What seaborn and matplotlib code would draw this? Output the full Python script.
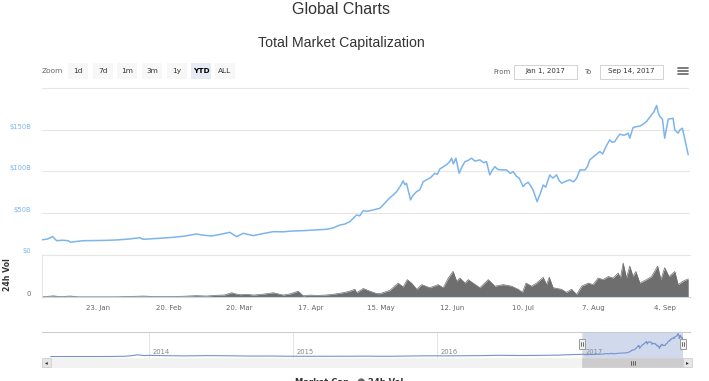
import numpy as np
import pandas as pd
import matplotlib
matplotlib.use('Agg')
import matplotlib.pyplot as plt
import matplotlib.dates as mdates
import matplotlib.transforms as mtransforms
from matplotlib.patches import Rectangle
import seaborn as sns

W, H = 709, 381
START = pd.Timestamp('2017-01-01')
END = pd.Timestamp('2017-09-14')

# total market cap, $ billions (day offset from Jan 1, 2017)
cap_day = [0, 2, 4.2, 5.8, 8, 10.4, 11.3, 13, 16.3, 20, 25, 29.5, 34, 38.7, 39.9, 44, 48,
           51.9, 56, 61.1, 63, 67, 70, 74.2, 76.9, 79.5, 83.5, 87, 91.4, 95, 99.2, 104, 108,
           112.4, 115, 117.7, 119.5, 121.6, 124.3, 125.5, 126.9, 128.5, 130.8, 133.5, 135.5,
           137, 138.5, 140.1, 141.5, 142.7, 143.3, 144, 145.6, 146.5, 148, 149.3, 150.6, 152,
           153.5, 155.2, 156.2, 157.2, 158.5, 160, 161.1, 161.8, 162.5, 163.5, 164.8, 166,
           167.1, 168.5, 169.7, 171, 173, 174.5, 175.6, 176.9, 177.8, 178.9, 180, 181.6, 183.5,
           185, 186.1, 187.5, 188.5, 190.1, 191, 192.1, 193.2, 194, 195.6, 196.8, 198, 199,
           200.6, 201.8, 203.3, 204.3, 205.3, 206.8, 208.5, 210, 211.2, 212.5, 214.5, 215.5,
           216.4, 218, 220.4, 221.5, 222.8, 224.3, 225.3, 226.3, 227.3, 228.3, 230, 231.6,
           232.2, 233.5, 235, 236.2, 237.5, 238.8, 240.8, 241.8, 242.8, 243.5, 244.1, 245.1,
           246, 246.6, 247.4, 249.3, 250, 251.3, 252, 253, 254, 255.3]
cap_bn = [17.7, 18.5, 21.5, 16.6, 17.2, 16.6, 14.7, 15.5, 16.6, 16.8, 17.0, 17.5, 18.5, 20.2,
          18.3, 19.0, 19.8, 20.7, 22.0, 24.7, 23.5, 22.3, 24.0, 26.7, 21.5, 25.5, 22.7, 25.0,
          27.5, 27.3, 28.3, 28.8, 29.6, 30.3, 32.0, 35.5, 36.5, 39.5, 47.6, 46.5, 52.8, 52.0,
          53.6, 55.7, 62.0, 67.0, 71.0, 75.7, 82.0, 88.6, 84.0, 85.8, 65.7, 71.0, 75.7, 78.0,
          87.7, 90.0, 92.5, 97.8, 96.5, 103, 105.5, 108.5, 111.8, 116, 109, 116, 97.8, 106,
          111.8, 113.5, 116, 112.5, 113.9, 110.5, 111.8, 95.8, 101, 105.8, 102.5, 101.8, 101.8,
          97.5, 99.8, 94, 92, 81.7, 85, 87, 82, 77.7, 63.6, 73, 83.7, 81, 95.8, 92, 95.8, 89,
          85.8, 88, 89.8, 87.5, 91.8, 101.8, 101.8, 106, 113.9, 118, 123.9, 121, 130, 138, 135,
          136, 141, 144.8, 143.5, 146, 140, 152.8, 154, 154.5, 156.9, 160, 168, 172, 179.3,
          170, 166, 163, 140, 150, 163, 164, 150, 146, 150, 152, 138, 120]

# 24h volume, $ billions
vol_day = [0, 2, 4.5, 7, 11.3, 14, 20, 30, 40, 45, 50, 56, 61, 65, 69, 72, 74.9, 76.5, 78.2,
           81, 83.5, 87, 91.4, 95.3, 98, 101.2, 103.2, 106, 108.5, 112, 115, 118, 120.3, 122,
           123.6, 124.3, 126.9, 129.5, 132.2, 133.5, 135.5, 137.4, 140.7, 142.7, 144.3, 146,
           148, 150, 153.2, 156.5, 158.5, 160.5, 162.4, 163.8, 165.1, 167.1, 168.4, 170.3, 173,
           176.3, 178.9, 182.2, 185.5, 188.1, 189.8, 191.2, 193.4, 195.4, 198, 199.3, 200.4,
           201.9, 205.2, 207.2, 209.2, 211.2, 213.2, 215.8, 217.7, 219.7, 221.7, 223.7, 225.6,
           227.6, 228.5, 229.6, 230.9, 232.2, 233.5, 234.6, 236.2, 238.8, 240.8, 243.2, 244.5,
           246, 247.7, 250, 251.3, 253.3, 255.3]
vol_bn = [0.1, 0.15, 0.3, 0.1, 0.25, 0.05, 0.05, 0.05, 0.25, 0.1, 0.1, 0.2, 0.35, 0.25, 0.45,
          0.5, 1.1, 0.8, 0.6, 0.7, 0.5, 0.7, 1.1, 0.5, 0.8, 1.5, 0.3, 0.5, 0.4, 0.5, 0.7, 1.0,
          1.3, 1.6, 2.0, 1.1, 2.2, 1.5, 0.9, 0.85, 1.3, 1.7, 3.6, 2.6, 4.5, 3.6, 2.0, 3.2, 2.4,
          3.2, 2.4, 4.9, 6.65, 4.1, 4.9, 3.6, 4.5, 3.6, 2.4, 4.5, 2.8, 3.2, 2.8, 2.0, 1.2, 3.6,
          2.8, 3.6, 5.1, 3.2, 5.1, 2.4, 2.0, 1.2, 2.0, 0.65, 2.8, 3.6, 3.2, 4.9, 4.5, 5.3, 4.9,
          6.2, 4.9, 8.8, 4.9, 8.0, 5.3, 6.6, 3.6, 4.5, 5.3, 8.0, 4.5, 7.6, 5.3, 6.6, 3.2, 4.1,
          4.7]

# navigator history before 2017, $ billions
nav_dates = ['2013-04-28', '2013-06-01', '2013-07-01', '2013-08-01', '2013-09-01', '2013-10-01',
             '2013-11-01', '2013-11-20', '2013-12-04', '2013-12-20', '2014-01-01', '2014-02-01',
             '2014-03-01', '2014-04-01', '2014-05-01', '2014-06-01', '2014-07-01', '2014-08-01',
             '2014-09-01', '2014-10-01', '2014-11-01', '2014-12-01', '2015-01-01', '2015-02-01',
             '2015-03-01', '2015-04-01', '2015-05-01', '2015-06-01', '2015-07-01', '2015-08-01',
             '2015-09-01', '2015-10-01', '2015-11-01', '2015-12-01', '2016-01-01', '2016-02-01',
             '2016-03-01', '2016-04-01', '2016-05-01', '2016-06-01', '2016-07-01', '2016-08-01',
             '2016-09-01', '2016-10-01', '2016-11-01', '2016-12-01']
nav_bn = [1.6, 1.4, 1.2, 1.3, 1.6, 2.0, 3.5, 8.5, 15.0, 9.0, 10.5, 8.5, 7.5, 6.5, 7.5, 8.5,
          8.0, 7.0, 5.5, 5.0, 5.5, 4.5, 3.5, 3.5, 3.8, 3.4, 3.4, 3.7, 4.5, 3.5, 3.5, 4.6, 5.5,
          7.0, 6.6, 6.8, 7.5, 7.8, 8.8, 11.0, 10.0, 9.5, 10.0, 11.5, 12.5, 16.0]

x_tick_dates = ['2017-01-23', '2017-02-20', '2017-03-20', '2017-04-17', '2017-05-15',
                '2017-06-12', '2017-07-10', '2017-08-07', '2017-09-04']
x_tick_labels = ['23. Jan', '20. Feb', '20. Mar', '17. Apr', '15. May', '12. Jun', '10. Jul',
                 '7. Aug', '4. Sep']
y_ticks = [0, 50, 100, 150]
y_tick_labels = ['$0', '$50B', '$100B', '$150B']
year_dates = ['2014-01-01', '2015-01-01', '2016-01-01', '2017-01-01']
year_labels = ['2014', '2015', '2016', '2017']
zoom_buttons = ['1d', '7d', '1m', '3m', '1y', 'YTD', 'ALL']

cap = pd.DataFrame({'date': START + pd.to_timedelta(cap_day, unit='D'), 'cap': cap_bn})
vol = pd.DataFrame({'date': START + pd.to_timedelta(vol_day, unit='D'), 'vol': vol_bn})
nav = pd.concat([pd.DataFrame({'date': pd.to_datetime(nav_dates), 'cap': nav_bn}), cap],
                ignore_index=True)

sns.set_style('white')
plt.rcParams['font.family'] = ['DejaVu Sans']

BLUE = '#7cb5ec'
GRID = '#e6e6e6'
AXIS = '#ccd6eb'

fig = plt.figure(figsize=(W / 100, H / 100), dpi=100)


def fx(x):
    return x / W


def fy(y):
    return 1 - y / H


def box(x0, y0, x1, y1, **kw):
    fig.patches.append(Rectangle((fx(x0), fy(y1)), (x1 - x0) / W, (y1 - y0) / H,
                                 transform=fig.transFigure, **kw))


def line(x0, y0, x1, y1, **kw):
    fig.add_artist(plt.Line2D([fx(x0), fx(x1)], [fy(y0), fy(y1)], transform=fig.transFigure, **kw))


up = mtransforms.ScaledTranslation(0, 3.5 / 100, fig.dpi_scale_trans)

# main market cap panel
ax = fig.add_axes([fx(42), fy(254.5), 648 / W, 159.5 / H])
sns.lineplot(data=cap, x='date', y='cap', ax=ax, color=BLUE, lw=1.1)
ax.set_xlim(START, END)
ax.set_ylim(0, 192)
ax.set_yticks(y_ticks)
ax.set_yticklabels(y_tick_labels)
ax.tick_params(axis='y', length=0, pad=7.5, labelsize=4.9, labelcolor=BLUE)
for lab in ax.get_yticklabels():
    lab.set_transform(lab.get_transform() + up)
ax.set_xticks([])
ax.grid(axis='y', color=GRID, lw=0.8)
for s in ax.spines.values():
    s.set_visible(False)
ax.set_xlabel('')
ax.set_ylabel('')

# volume panel
axv = fig.add_axes([fx(42), fy(297), 648 / W, 42.5 / H])
axv.fill_between(vol['date'], vol['vol'], color='#6e6e6e', lw=0)
sns.lineplot(data=vol, x='date', y='vol', ax=axv, color='#6e6e6e', lw=0.5)
axv.set_xlim(START, END)
axv.set_ylim(0, 11)
axv.set_yticks([0])
axv.set_yticklabels(['0'])
axv.tick_params(axis='y', length=0, pad=8, labelsize=4.9, labelcolor='#666666')
for lab in axv.get_yticklabels():
    lab.set_transform(lab.get_transform() + up)
axv.set_xticks(pd.to_datetime(x_tick_dates))
axv.set_xticklabels(x_tick_labels)
axv.tick_params(axis='x', length=3.6, width=0.7, color=AXIS, pad=2, labelsize=5,
                labelcolor='#666666')
axv.spines['right'].set_visible(False)
axv.spines['top'].set_color(GRID)
axv.spines['left'].set_color(GRID)
axv.spines['bottom'].set_color(AXIS)
for s in ['top', 'left', 'bottom']:
    axv.spines[s].set_linewidth(0.8)
axv.set_xlabel('')
axv.set_ylabel('')

# navigator
axn = fig.add_axes([fx(42), fy(357.5), 648 / W, 25.5 / H])
nav_start, nav_end = pd.Timestamp('2013-04-06'), pd.Timestamp('2017-10-01')
axn.axvspan(START, END, color='#d1daed', lw=0)
for d, lab in zip(pd.to_datetime(year_dates), year_labels):
    axn.axvline(d, color=GRID, lw=0.8)
    axn.annotate(lab, (d, 0.2), xycoords=('data', 'axes fraction'), xytext=(2.5, 0),
                 textcoords='offset points', fontsize=4.9, color='#888888', va='center')
sns.lineplot(data=nav, x='date', y='cap', ax=axn, color='#7693cc', lw=0.8)
axn.set_xlim(nav_start, nav_end)
axn.set_ylim(-6, 192)
axn.set_xticks([])
axn.set_yticks([])
for s in ['left', 'right', 'bottom']:
    axn.spines[s].set_visible(False)
axn.spines['top'].set_color('#cccccc')
axn.spines['top'].set_linewidth(0.8)
axn.set_xlabel('')
axn.set_ylabel('')

fig.canvas.draw()
sel_x0 = axn.transData.transform([[mdates.date2num(START), 0]])[0][0]
sel_x1 = axn.transData.transform([[mdates.date2num(END), 0]])[0][0]

# navigator handles
for hx in (sel_x0, sel_x1):
    box(hx - 3, 339, hx + 3, 349, facecolor='#f2f2f2', edgecolor='#999999', lw=0.7, zorder=5)
    line(hx - 0.8, 342, hx - 0.8, 346, color='#333333', lw=0.5, zorder=6)
    line(hx + 0.8, 342, hx + 0.8, 346, color='#333333', lw=0.5, zorder=6)

# scrollbar
box(42, 358, 692, 367, facecolor='#f2f2f2', edgecolor='#f2f2f2', lw=0.5)
box(sel_x0, 358, sel_x1, 367, facecolor='#cccccc', edgecolor='#cccccc', lw=0.5)
box(42, 358, 51, 367, facecolor='#e6e6e6', edgecolor='#cccccc', lw=0.5)
box(683, 358, 692, 367, facecolor='#e6e6e6', edgecolor='#cccccc', lw=0.5)
fig.text(fx(46.5), fy(362.5), '\u25c2', fontsize=4, color='#333333', ha='center', va='center')
fig.text(fx(687.5), fy(362.5), '\u25b8', fontsize=4, color='#333333', ha='center', va='center')
mid = (sel_x0 + sel_x1) / 2
for dx in (-2, 0, 2):
    line(mid + dx, 360.5, mid + dx, 364.5, color='#333333', lw=0.5)

# titles
fig.text(fx(341), fy(10), 'Global Charts', fontsize=11.5, color='#333333', ha='center',
         va='center', family='Liberation Sans')
fig.text(fx(341), fy(43.5), 'Total Market Capitalization', fontsize=10.2, color='#333333',
         ha='center', va='center', family='Liberation Sans')

# range selector
fig.text(fx(42), fy(71), 'Zoom', fontsize=5.3, color='#666666', va='center')
btn_x = [68, 93, 117, 142, 167, 191, 215]
for bx, lab in zip(btn_x, zoom_buttons):
    active = lab == 'YTD'
    box(bx, 63.5, bx + 20, 78.5, facecolor='#e6ebf5' if active else '#f7f7f7', lw=0)
    fig.text(fx(bx + 10), fy(71), lab, fontsize=5.3, ha='center', va='center',
             color='#000000' if active else '#333333',
             fontweight='bold' if active else 'normal')
fig.text(fx(493), fy(71.5), 'From', fontsize=5, color='#666666', va='center')
box(514, 64.5, 577, 78.5, facecolor='white', edgecolor='#cccccc', lw=0.6)
fig.text(fx(545.5), fy(71.5), 'Jan 1, 2017', fontsize=5, color='#333333', ha='center', va='center')
fig.text(fx(584), fy(71.5), 'To', fontsize=5, color='#666666', va='center')
box(600, 64.5, 663, 78.5, facecolor='white', edgecolor='#cccccc', lw=0.6)
fig.text(fx(631.5), fy(71.5), 'Sep 14, 2017', fontsize=5, color='#333333', ha='center', va='center')
for hy in (68, 71, 74):
    line(678, hy, 688, hy, color='#666666', lw=1.2)
line(42, 87.5, 688, 87.5, color='#e6e6e6', lw=0.8)

# axis titles
fig.text(fx(-1.5), fy(168), 'Market Cap', fontsize=5.2, color=BLUE, rotation=90,
         ha='center', va='center', fontweight='bold')
fig.text(fx(7), fy(274.5), '24h Vol', fontsize=5.6, color='#333333', rotation=90,
         ha='center', va='center', fontweight='bold')

# legend (cut at the bottom edge)
fig.text(fx(295), fy(378), 'Market Cap', fontsize=6, color='#333333', va='top', fontweight='bold')
fig.text(fx(361), fy(382), '\u25cf', fontsize=7, color='#666666', ha='center', va='center')
fig.text(fx(368), fy(378), '24h Vol', fontsize=6, color='#333333', va='top', fontweight='bold')

fig.savefig('out.png', dpi=100)
